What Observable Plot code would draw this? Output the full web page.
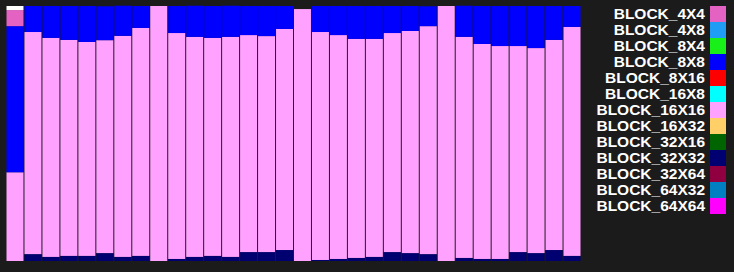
<!DOCTYPE html>
<html>
<head>
<meta charset="utf-8">
<script src="https://cdn.jsdelivr.net/npm/d3@7"></script>
<script src="https://cdn.jsdelivr.net/npm/@observablehq/plot@0.6"></script>
<style>
  html, body { margin: 0; padding: 0; background: #1b1b1b; }
  #wrap { position: relative; width: 734px; height: 272px; overflow: hidden; }
  #chart { position: absolute; left: 0; top: 0; }
  #legend { position: absolute; left: 590px; top: 6px; width: 136px; }
  .row { display: flex; justify-content: flex-end; align-items: center; height: 16px; }
  .lab { font-family: "Liberation Sans", Arial, sans-serif; font-weight: bold; font-size: 15.5px; color: #ffffff; margin-right: 5px; line-height: 16px; white-space: nowrap; }
  .sw { width: 16px; height: 16px; }
</style>
</head>
<body>
<div id="wrap"><div id="chart"></div><div id="legend"></div></div>
<script>
// Frames (categories)
const frames = d3.range(1, 33).map(String);

// Legend block sizes and colours
const sizes = ["BLOCK_4X4","BLOCK_4X8","BLOCK_8X4","BLOCK_8X8","BLOCK_8X16","BLOCK_16X8","BLOCK_16X16","BLOCK_16X32","BLOCK_32X16","BLOCK_32X32","BLOCK_32X64","BLOCK_64X32","BLOCK_64X64"];
const colors = ["#e462c2","#1f9df5","#19f019","#0000ff","#ff0000","#00ffff","#ffa2ff","#ffd068","#006400","#000070","#900040","#0080c0","#ff00ff"];

// Series values (% of frame)
const other    = [1.6,0,0,0,0,0,0,0,0,0,0,0,0,0,0,0,0,0,0,0,0,0,0,0,0,0,0,0,0,0,0,0];
const b4x4     = [6.3,0,0,0,0,0,0,0,0,0,0,0,0,0,0,0,0,0,0,0,0,0,0,0,0,0,0,0,0,0,0,0];
const b8x8     = [57.3,10.2,12.5,13.3,14.1,13.3,11.8,8.6,0,10.6,12.2,12.5,12.2,11.4,11.8,9.0,0,10.2,11.4,12.9,12.9,10.6,9.8,7.8,0,12.2,14.9,15.7,15.7,16.5,13.3,8.2];
const b16x16   = [34.8,87.1,85.9,84.7,83.9,83.5,86.7,89.4,100,88.6,86.3,85.5,86.3,85.1,84.7,86.7,98.8,89.4,87.8,85.9,85.5,85.9,87.1,89.4,100,86.7,84.3,83.5,80.8,80.4,82.4,89.8];
const b32x32   = [0,2.7,1.6,2.0,2.0,3.1,1.6,2.0,0,0.8,1.6,2.0,1.6,3.5,3.5,4.3,0,0.4,0.8,1.2,1.6,3.5,3.1,2.7,0,1.2,0.8,0.8,3.5,3.1,4.3,2.0];

const series = [
  ["BLOCK_32X32", b32x32],
  ["BLOCK_16X16", b16x16],
  ["BLOCK_8X8", b8x8],
  ["BLOCK_4X4", b4x4],
  ["OTHER", other]
];
const order = series.map(s => s[0]);
const table = [];
for (const [name, vals] of series) {
  vals.forEach((v, i) => { if (v > 0) table.push({frame: frames[i], size: name, value: v}); });
}

const chart = Plot.plot({
  width: 590,
  height: 272,
  marginLeft: 6,
  marginRight: 9,
  marginTop: 6,
  marginBottom: 11,
  style: {background: "#1b1b1b"},
  x: {domain: frames, axis: null, padding: 0},
  y: {domain: [0, 100], axis: null},
  color: {domain: [...sizes, "OTHER"], range: [...colors, "#ffffff"]},
  marks: [
    Plot.barY(table, Plot.stackY({order}, {x: "frame", y: "value", z: "size", fill: "size", insetLeft: 0.5, insetRight: 0.5}))
  ]
});
document.getElementById("chart").appendChild(chart);

const legend = document.getElementById("legend");
sizes.forEach((s, i) => {
  const row = document.createElement("div");
  row.className = "row";
  const lab = document.createElement("span");
  lab.className = "lab";
  lab.textContent = s;
  const sw = document.createElement("span");
  sw.className = "sw";
  sw.style.background = colors[i];
  row.appendChild(lab);
  row.appendChild(sw);
  legend.appendChild(row);
});
</script>
</body>
</html>
